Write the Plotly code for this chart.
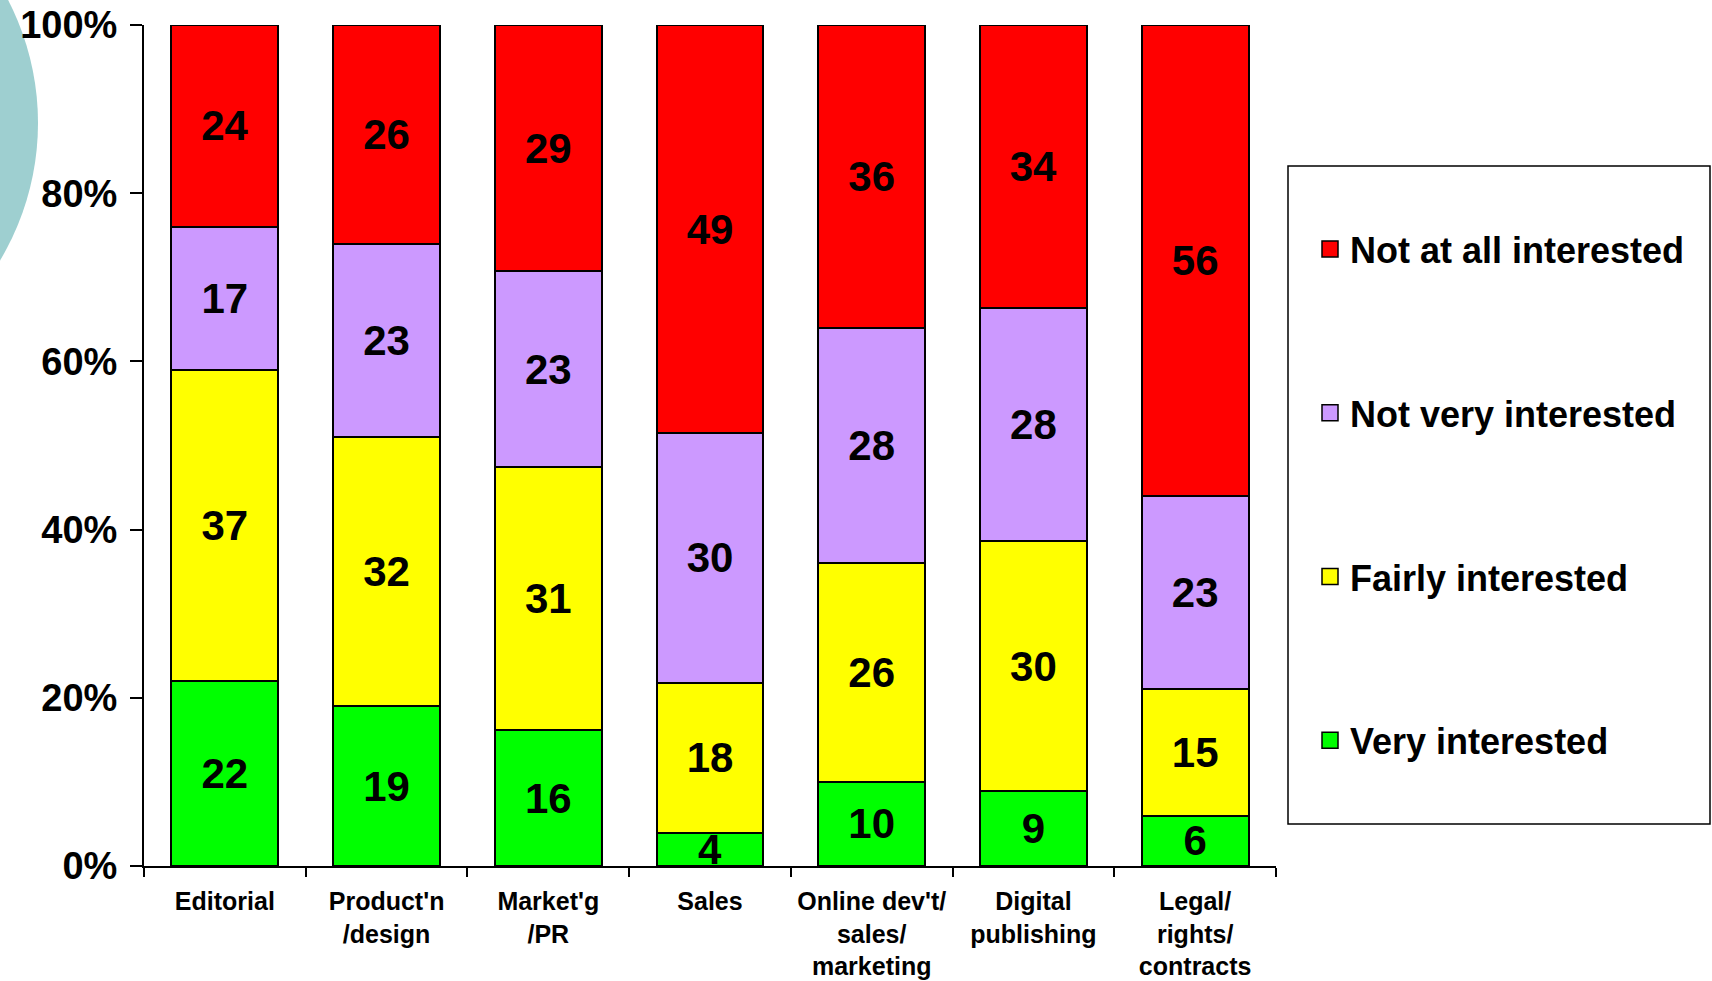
import plotly.graph_objects as go

categories = ["Editorial", "Product'n<br>/design", "Market'g<br>/PR", "Sales",
              "Online dev't/<br>sales/<br>marketing", "Digital<br>publishing",
              "Legal/<br>rights/<br>contracts"]
very_interested = [22, 19, 16, 4, 10, 9, 6]
fairly_interested = [37, 32, 31, 18, 26, 30, 15]
not_very_interested = [17, 23, 23, 30, 28, 28, 23]
not_at_all_interested = [24, 26, 29, 49, 36, 34, 56]
series_names = ["Very interested", "Fairly interested", "Not very interested", "Not at all interested"]
series_colors = ["#00FF00", "#FFFF00", "#CC99FF", "#FF0000"]
y_ticks = [0, 20, 40, 60, 80, 100]
y_tick_labels = ["0%", "20%", "40%", "60%", "80%", "100%"]

FONT = "Liberation Sans, Arial, sans-serif"
series_values = [very_interested, fairly_interested, not_very_interested, not_at_all_interested]

fig = go.Figure()
for name, vals, col in zip(series_names, series_values, series_colors):
    fig.add_trace(go.Bar(
        x=categories, y=vals, name=name, showlegend=False,
        marker=dict(color=col, line=dict(color="black", width=2)),
        text=[str(v) for v in vals], textposition="inside",
        insidetextanchor="middle", textangle=0,
        textfont=dict(family=FONT, size=42, color="black", weight="bold"),
        hoverinfo="skip",
    ))
# legend entries (square markers), top to bottom: Not at all ... Very
for i, (name, col) in enumerate(zip(series_names[::-1], series_colors[::-1])):
    fig.add_trace(go.Scatter(
        x=[None], y=[None], mode="markers", name=name, legendgroup=f"g{i}",
        marker=dict(symbol="square", size=16, color=col, line=dict(color="black", width=1.5)),
        showlegend=True,
    ))

L, R, T, B = 144, 436, 25, 115
W, H = 1712, 981
pw, ph = W - L - R, H - T - B

def px(x):
    return (x - L) / pw

def py(y):
    return (H - B - y) / ph

fig.update_layout(
    width=W, height=H,
    margin=dict(l=L, r=R, t=T, b=B, autoexpand=False),
    paper_bgcolor="white", plot_bgcolor="white",
    barmode="stack", barnorm="percent", bargap=0.34,
    uniformtext=dict(minsize=42, mode="show"),
    font=dict(family=FONT, color="black"),
    showlegend=True,
    legend=dict(
        x=px(1310), y=py(219), xanchor="left", yanchor="top",
        traceorder="grouped", tracegroupgap=114,
        font=dict(family=FONT, size=36, color="black", weight="bold"),
        bgcolor="rgba(0,0,0,0)", borderwidth=0,
        itemclick=False, itemdoubleclick=False,
    ),
    xaxis=dict(
        type="category", range=[-0.5, 6.5],
        showline=True, linecolor="black", linewidth=2,
        ticks="outside", tickson="boundaries", ticklen=9, tickwidth=2, tickcolor="black",
        tickfont=dict(family=FONT, size=25, color="black", weight="bold"),
        ticklabelstandoff=12,
        showgrid=False, zeroline=False, fixedrange=True,
    ),
    yaxis=dict(
        range=[0, 100], tickvals=y_ticks, ticktext=y_tick_labels,
        showline=True, linecolor="black", linewidth=2,
        ticks="outside", ticklen=12, tickwidth=2, tickcolor="black",
        tickfont=dict(family=FONT, size=38, color="black", weight="bold"),
        ticklabelstandoff=5,
        showgrid=False, zeroline=False, fixedrange=True,
    ),
    shapes=[
        dict(type="circle", xref="paper", yref="paper",
             x0=px(-498), x1=px(38), y0=py(391), y1=py(-145),
             fillcolor="#9ECFD0", line=dict(width=0), layer="below"),
        dict(type="rect", xref="paper", yref="paper",
             x0=px(1288), x1=px(1710), y0=py(824), y1=py(166),
             fillcolor="rgba(0,0,0,0)", line=dict(color="black", width=1.5)),
    ],
)

fig.write_html("out.html", config={"displayModeBar": False},
               post_script="document.body.style.margin='0';document.body.style.overflow='hidden';")
